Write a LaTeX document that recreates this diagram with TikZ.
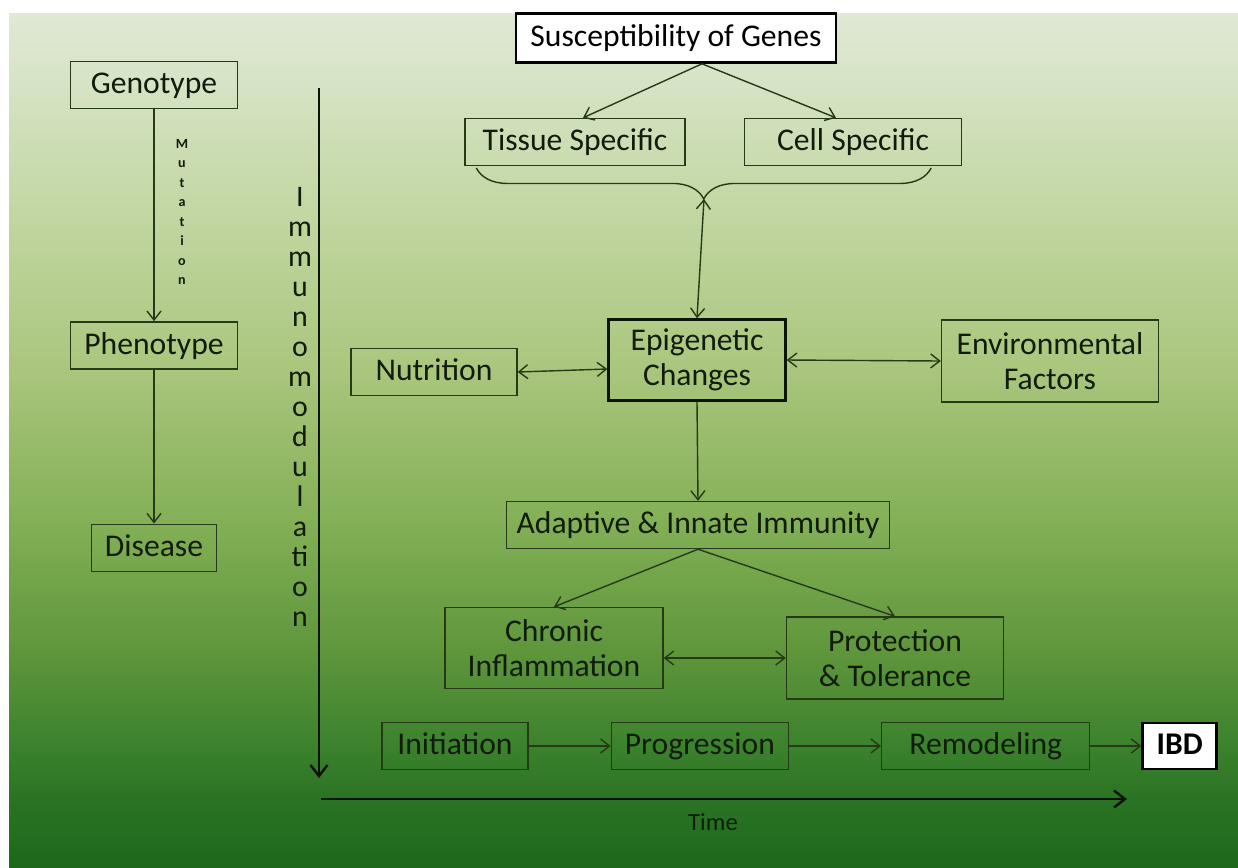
\documentclass[tikz,border=0pt]{standalone}
\usepackage{fontspec}
\setmainfont{Carlito}
\usepackage{xcolor}
\usetikzlibrary{arrows.meta, positioning, decorations.pathreplacing}

\definecolor{inkdark}{RGB}{18,28,12}
\definecolor{boxline}{RGB}{38,58,24}
\definecolor{axisdark}{RGB}{12,20,8}
\definecolor{bgA}{RGB}{28,105,28}
\definecolor{bgB}{RGB}{42,115,36}
\definecolor{bgC}{RGB}{60,130,45}
\definecolor{bgD}{RGB}{95,150,60}
\definecolor{bgE}{RGB}{130,175,85}
\definecolor{bgF}{RGB}{170,198,125}
\definecolor{bgG}{RGB}{196,216,165}
\definecolor{bgH}{RGB}{214,227,197}
\definecolor{bgI}{RGB}{224,233,212}

\pgfdeclareverticalshading{bggrad}{100bp}{color(0bp)=(bgA); color(25bp)=(bgA); color(28.9bp)=(bgB); color(32.1bp)=(bgC); color(37.7bp)=(bgD); color(45bp)=(bgE); color(54.1bp)=(bgF); color(64.1bp)=(bgG); color(70.8bp)=(bgH); color(75bp)=(bgI); color(100bp)=(bgI)}

\begin{document}
\begin{tikzpicture}[
    x=0.02cm, y=-0.02cm,
    >={Straight Barb[length=1.8mm,width=2.8mm]},
    box/.style={rectangle, draw=boxline, line width=0.8pt, text=inkdark, align=center, inner sep=2pt, minimum height=0.94cm, font=\fontsize{18}{20}\selectfont},
    sbox/.style={box, text height=13pt, text depth=2.8pt},
    keybox/.style={sbox, draw=black, line width=1.5pt, fill=white, text=black},
    arr/.style={->, line width=0.8pt, draw=boxline},
    dbl/.style={<->, line width=0.8pt, draw=boxline},
    axis/.style={->, line width=1.4pt, draw=axisdark, >={Straight Barb[length=2.2mm,width=3.4mm]}},
    brc/.style={decorate, decoration={brace, mirror, amplitude=0.62cm}, line width=0.8pt, draw=boxline},
    vlbl/.style={align=center, text=inkdark, inner sep=0pt}
]

% background
\shade[shading=bggrad] (9,13) rectangle (1238,867);
\useasboundingbox (0,0) rectangle (1238,867);

% Left column: genotype to disease
\node[sbox, minimum width=3.34cm] (geno) at (154,85) {Genotype};
\node[sbox, minimum width=3.34cm, below=4.24cm of geno] (pheno) {Phenotype};
\node[sbox, minimum width=2.5cm, below=3.08cm of pheno] (dis) {Disease};

% Genes and their two branches
\node[keybox, minimum width=6.4cm, minimum height=0.98cm] (susc) at (676,38) {Susceptibility of Genes};
\node[sbox, minimum width=4.4cm] (tissue) at (575,142) {Tissue Specific};
\node[sbox, minimum width=4.34cm] (cell) at (853,142) {Cell Specific};

% Middle row
\node[box, line width=1.4pt, draw=axisdark, minimum width=3.54cm, minimum height=1.62cm] (epi) at (697,360) {Epigenetic\\Changes};
\node[sbox, minimum width=3.32cm] (nutr) at (434,372) {Nutrition};
\node[box, minimum width=4.34cm, minimum height=1.64cm] (env) at (1050,361) {Environmental\\Factors};

% Immunity and its outcomes
\node[sbox, minimum width=7.66cm] (adapt) at (698,525) {Adaptive \& Innate Immunity};
\node[box, minimum width=4.36cm, minimum height=1.62cm] (chronic) at (554,648) {Chronic\\Inflammation};
\node[box, minimum width=4.34cm, minimum height=1.64cm] (prot) at (895,658) {Protection\\\& Tolerance};

% Row: stages left to right
\node[sbox, minimum width=2.92cm] (init) at (455,746) {Initiation};
\node[sbox, minimum width=3.54cm, right=1.64cm of init] (prog) {Progression};
\node[sbox, minimum width=4.16cm, right=1.84cm of prog] (remod) {Remodeling};
\node[keybox, minimum width=1.48cm, minimum height=0.92cm, font=\fontsize{18}{20}\selectfont\bfseries, right=1.02cm of remod] (ibd) {IBD};

% Axis labels
\node[vlbl, font=\fontsize{8}{11.1}\selectfont\bfseries] (mut) at (182,212) {M\\u\\t\\a\\t\\i\\o\\n};
\node[vlbl, font=\fontsize{17}{17.07}\selectfont] (immuno) at (300,407) {I\\m\\m\\u\\n\\o\\m\\o\\d\\u\\l\\a\\ti\\o\\n};
\node[vlbl, font=\fontsize{14}{16}\selectfont] (time) at (713,822) {Time};

% ---- ARROWS ----
\draw[arr] (geno) -- (pheno);
\draw[arr] (pheno) -- (dis);

% Genes -> branches
\draw[arr] ([xshift=0.52cm]susc.south) -- ([xshift=0.16cm]tissue.north);
\draw[arr] ([xshift=0.52cm]susc.south) -- ([xshift=-0.34cm]cell.north);

% Brace under both branches
\draw[brc] ([xshift=0.24cm, yshift=-1pt]tissue.south west) -- ([xshift=-0.62cm, yshift=-1pt]cell.south east);
\coordinate (bt) at (704,199);
\draw[dbl] (bt) -- (epi.north);

% Epigenetic links
\draw[dbl] (nutr.east) -- ([yshift=-0.18cm]epi.west);
\draw[dbl] (epi.east) -- (env.west);
\draw[arr] (epi.south) -- (adapt.north);

% Immunity split
\draw[arr] (adapt.south) -- (chronic.north);
\draw[arr] (adapt.south) -- (prot.north);
\draw[dbl] (chronic.east |- prot.west) -- (prot.west);

% Stages
\draw[arr] (init) -- (prog);
\draw[arr] (prog) -- (remod);
\draw[arr] (remod) -- (ibd);

% Immunomodulation and time axes
\coordinate (imtop) at (319,88);
\coordinate (imbot) at (319,778);
\draw[axis] (imtop) -- (imbot);
\coordinate (tstart) at (321,799);
\coordinate (tend) at (1127,799);
\draw[axis] (tstart) -- (tend);

\end{tikzpicture}
\end{document}
